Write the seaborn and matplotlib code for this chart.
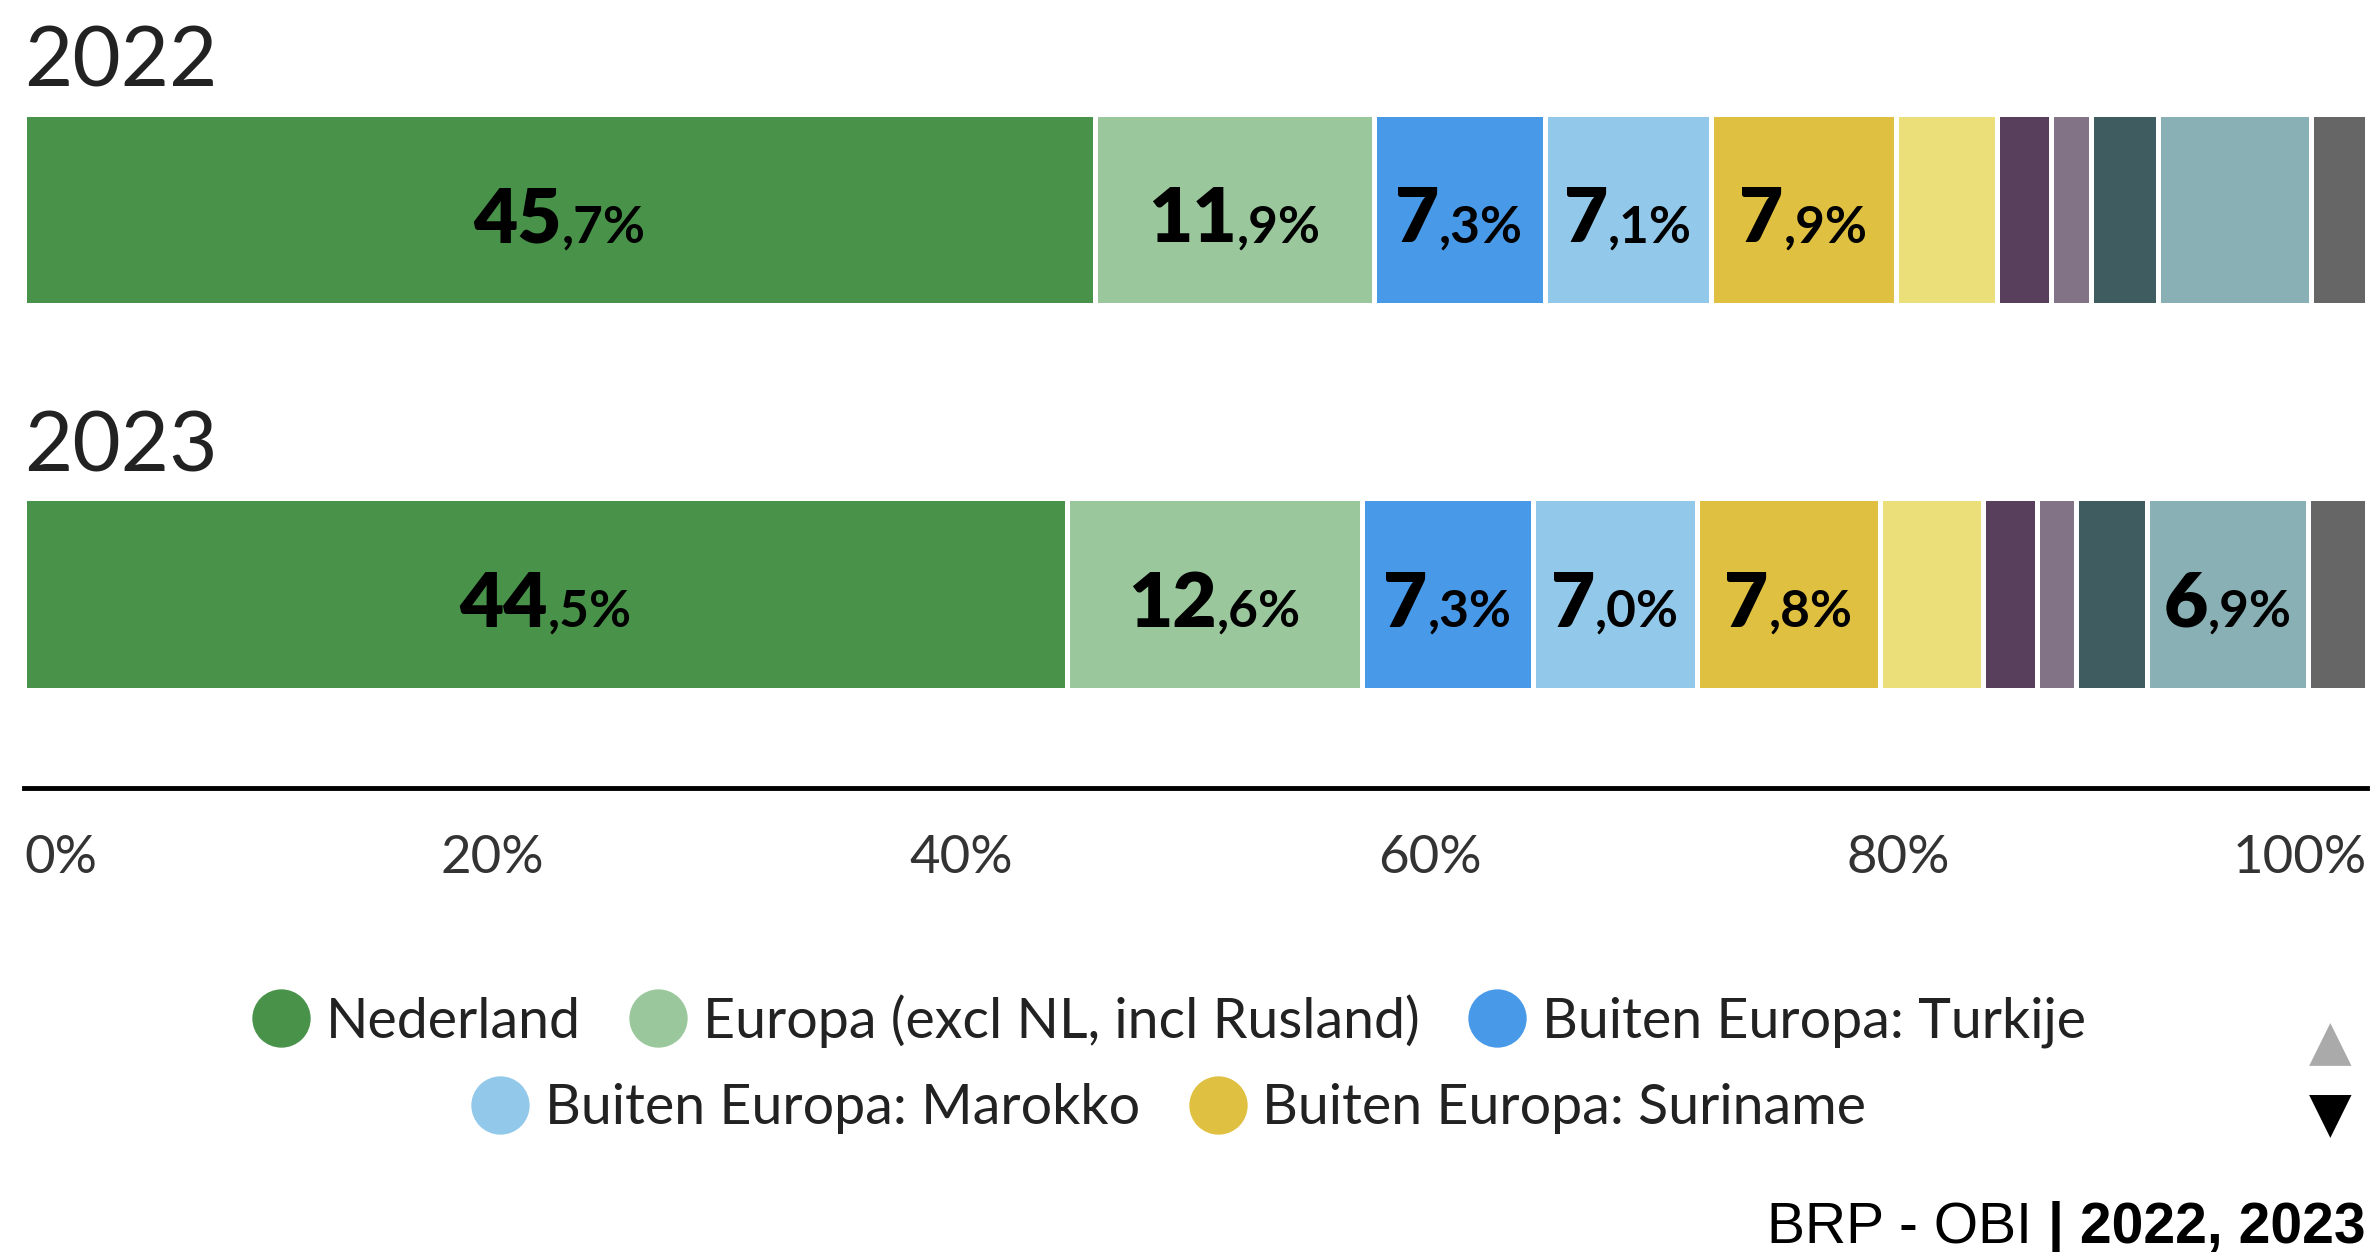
"""Herkomst bevolking 2022 vs 2023 (BRP - OBI) as 100% stacked bars."""

import matplotlib
matplotlib.use("Agg")
import matplotlib.pyplot as plt
from matplotlib.lines import Line2D
import numpy as np
import pandas as pd
import seaborn as sns

# ---------------------------------------------------------------------------
# Data
# ---------------------------------------------------------------------------
YEARS = ["2022", "2023"]
CATEGORIES = [
    "Nederland",
    "Europa (excl NL, incl Rusland)",
    "Buiten Europa: Turkije",
    "Buiten Europa: Marokko",
    "Buiten Europa: Suriname",
    "Buiten Europa: overig 1",
    "Buiten Europa: overig 2",
    "Buiten Europa: overig 3",
    "Buiten Europa: overig 4",
    "Buiten Europa: overig 5",
    "Onbekend",
]
SHARE_2022 = [45.7, 11.9, 7.3, 7.1, 7.9, 4.3, 2.3, 1.7, 2.9, 6.5, 2.4]
SHARE_2023 = [44.5, 12.6, 7.3, 7.0, 7.8, 4.4, 2.3, 1.7, 3.0, 6.9, 2.5]
COLORS = [
    "#48924a", "#9ac89c", "#4899e8", "#92c9ea", "#e0c040", "#eadf78",
    "#58405c", "#837386", "#3f5d60", "#89b0b5", "#666666",
]
LEGEND_ROWS = [[0, 1, 2], [3, 4]]  # first legend page only
TICKS = [0, 20, 40, 60, 80, 100]
TICK_LABELS = ["0%", "20%", "40%", "60%", "80%", "100%"]
LABEL_MIN = 6.8
SOURCE = "BRP - OBI "
SOURCE_YEARS = "| 2022, 2023"

# ---------------------------------------------------------------------------
# Layout (pixels of a 2372 x 1252 canvas)
# ---------------------------------------------------------------------------
W, H = 2372, 1252
BAR_H = 0.499

sns.set_theme(style="white")
plt.rcParams["font.family"] = ["Lato", "DejaVu Sans"]

df = pd.DataFrame({
    "year": np.repeat(YEARS, len(CATEGORIES)),
    "category": CATEGORIES * len(YEARS),
    "share": SHARE_2022 + SHARE_2023,
})
df["end"] = df.groupby("year")["share"].cumsum()
df["start"] = df["end"] - df["share"]

fig = plt.figure(figsize=(W / 100, H / 100), dpi=100)
fig.patch.set_facecolor("white")
ax = fig.add_axes([24 / W, 1 - 788 / H, (2367 - 24) / W, 788 / H])

# overlapping cumulative bars, widest first
for cat, color in reversed(list(zip(CATEGORIES, COLORS))):
    sns.barplot(data=df[df["category"] == cat], x="end", y="year", order=YEARS,
                color=color, saturation=1, width=BAR_H, errorbar=None,
                edgecolor="white", linewidth=3.6, ax=ax)

ax.set_xlim(0, 100)
ax.set_ylim(1.5046, -0.545)
ax.set_xlabel("")
ax.set_ylabel("")
ax.set_yticks([])
for side in ["top", "left", "right"]:
    ax.spines[side].set_visible(False)
ax.spines["bottom"].set_color("black")
ax.spines["bottom"].set_linewidth(3.5)
ax.set_facecolor("none")

ax.set_xticks(TICKS, TICK_LABELS)
ax.tick_params(axis="x", length=0, pad=34, labelsize=38, labelcolor="#333333")
ax.get_xticklabels()[0].set_ha("left")
ax.get_xticklabels()[-1].set_ha("right")

for i, year in enumerate(YEARS):
    ax.text(0, i - BAR_H / 2 - 0.07, year, ha="left", va="baseline",
            fontsize=60, color="#222222")

# segment labels: large integer part + small decimal part
fig.canvas.draw()
renderer = fig.canvas.get_renderer()
px_per_unit = ax.get_window_extent(renderer).width / 100
for _, row in df[df["share"] >= LABEL_MIN].iterrows():
    i = YEARS.index(row["year"])
    whole, dec = f"{row['share']:.1f}".split(".")
    big = ax.text(0, i + 0.085, whole, ha="left", va="baseline",
                  fontsize=55, fontweight="heavy", color="black")
    small = ax.text(0, i + 0.085, f",{dec}%", ha="left", va="baseline",
                    fontsize=37, fontweight="bold", color="black")
    w_big = big.get_window_extent(renderer).width / px_per_unit
    w_small = small.get_window_extent(renderer).width / px_per_unit
    x0 = (row["start"] + row["end"]) / 2 - (w_big + w_small) / 2
    big.set_x(x0)
    small.set_x(x0 + w_big)

# legend (first page) in two centred rows
for row_idx, y in zip(LEGEND_ROWS, [1 - 1021 / H, 1 - 1109 / H]):
    handles = [Line2D([], [], marker="o", linestyle="", markersize=41,
                      markerfacecolor=COLORS[k], markeredgecolor=COLORS[k])
               for k in row_idx]
    fig.legend(handles, [CATEGORIES[k] for k in row_idx], loc="center",
               bbox_to_anchor=(0.493, y), ncol=len(row_idx), frameon=False,
               fontsize=40, handlelength=1.0, handletextpad=0.3,
               columnspacing=0.9, borderpad=0, borderaxespad=0,
               labelcolor="#222222")

# legend paging arrows
fig.text(2330 / W, 1 - 1044 / H, "\u25b2", ha="center", va="center",
         fontsize=40, color="#aaaaaa", family="DejaVu Sans")
fig.text(2330 / W, 1 - 1116 / H, "\u25bc", ha="center", va="center",
         fontsize=40, color="black", family="DejaVu Sans")

# source line
src_b = fig.text(2365 / W, 1 - 1243 / H, SOURCE_YEARS, ha="right",
                 va="baseline", fontsize=41, fontweight="bold",
                 family="Liberation Sans", color="black")
fig.canvas.draw()
left = src_b.get_window_extent(renderer).x0 / W
fig.text(left, 1 - 1243 / H, SOURCE, ha="right", va="baseline", fontsize=41,
         family="Liberation Sans", color="black")

fig.savefig("out.png", dpi=100)
